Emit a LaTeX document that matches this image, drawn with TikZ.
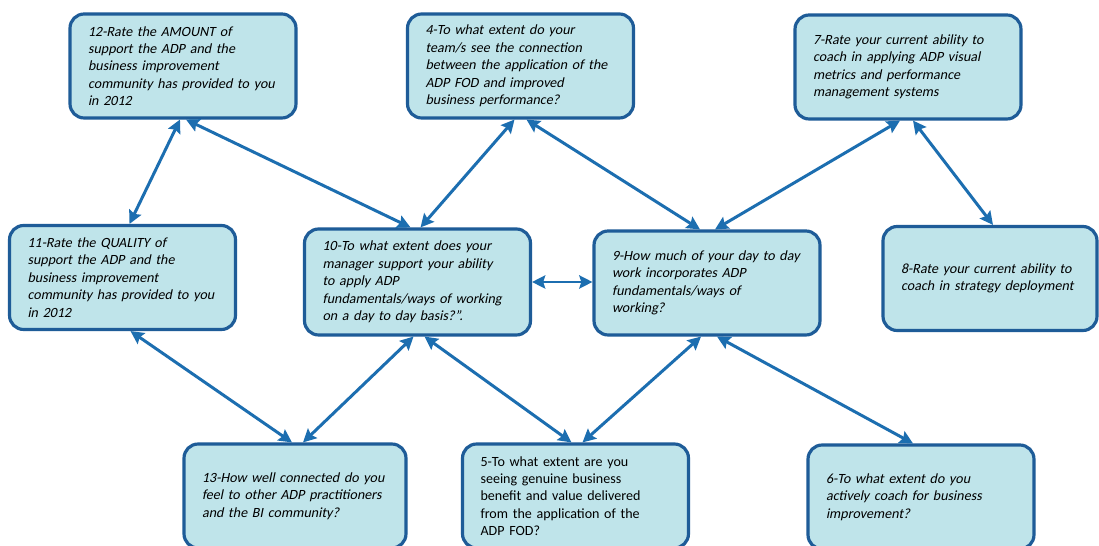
\documentclass[tikz,border=0pt]{standalone}
\usepackage{fontspec}
\setmainfont{Carlito}[AutoFakeSlant=0.2]
\usepackage{tikz}
\usetikzlibrary{arrows.meta, calc}
\definecolor{boxfill}{RGB}{191,228,234}
\definecolor{boxline}{RGB}{30,92,152}
\definecolor{linkblue}{RGB}{28,110,176}
\hyphenpenalty=10000
\exhyphenpenalty=10000
\begin{document}
\begin{tikzpicture}[
    x=0.02cm, y=-0.02cm,
    font=\fontsize{8}{9.9}\selectfont\itshape,
    qbox/.style={rectangle, rounded corners=8pt, draw=boxline, line width=1.8pt,
      fill=boxfill, text width=3.8cm, inner xsep=0.36cm, minimum height=2.08cm,
      align=left, text=black},
    qboxup/.style={qbox, font=\fontsize{8}{9.9}\selectfont\upshape},
    link/.style={{Stealth[length=7.5pt, width=7.5pt, inset=1.2pt]}-{Stealth[length=7.5pt, width=7.5pt, inset=1.2pt]},
      line width=1.7pt, draw=linkblue},
  ]
  \useasboundingbox[fill=white] (0,0) rectangle (1099,546);

  \node[qbox]   (q12) at (183,66)    {12-Rate the AMOUNT of\\support the ADP and the\\business improvement\\community has provided to you\\in 2012};
  \node[qbox]   (q4)  at (520.5,66)  {4-To what extent do your\\team/s see the connection\\between the application of the\\ADP FOD and improved\\business performance?};
  \node[qbox]   (q7)  at (908,67)    {7-Rate your current ability to\\coach in applying ADP visual\\metrics and performance\\management systems};

  \node[qbox]   (q11) at (122.5,277.5) {11-Rate the QUALITY of\\support the ADP and the\\business improvement\\community has provided to you\\in 2012};
  \node[qbox, minimum height=2.12cm] (q10) at (417.5,282) {10-To what extent does your\\manager support your ability\\to apply ADP\\fundamentals/ways of working\\on a day to day basis?”.};
  \node[qbox]   (q9)  at (707,283)   {9-How much of your day to day\\work incorporates ADP\\fundamentals/ways of\\working?};
  \node[qbox, text width=3.56cm] (q8) at (990,278.5) {8-Rate your current ability to\\coach in strategy deployment};

  \node[qbox, text width=3.72cm] (q13) at (295,496) {13-How well connected do you\\feel to other ADP practitioners\\and the BI community?};
  \node[qboxup] (q5)  at (575.5,496) {5-To what extent are you\\seeing genuine business\\benefit and value delivered\\from the application of the\\ADP FOD?};
  \node[qbox]   (q6)  at (921,497)   {6-To what extent do you\\actively coach for business\\improvement?};

  \draw[link] ($(q12.south)+(-3,0)$) -- ($(q11.north)+(7,0)$);
  \draw[link] ($(q12.south)+(3,0)$) -- ($(q10.north)+(-7,0)$);
  \draw[link] ($(q4.south)+(-6,0)$) -- ($(q10.north)+(3,0)$);
  \draw[link] ($(q4.south)+(6,0)$) -- ($(q9.north)+(-7,0)$);
  \draw[link] ($(q7.south)+(-8,0)$) -- ($(q9.north)+(8,0)$);
  \draw[link] ($(q7.south)+(5,0)$) -- ($(q8.north)+(3,0)$);
  \draw[link] (q10.east) -- (q10.east -| q9.west);
  \draw[link] ($(q11.south)+(8,0)$) -- ($(q13.north)+(-3,0)$);
  \draw[link] ($(q10.south)+(-4,0)$) -- ($(q13.north)+(8,0)$);
  \draw[link] ($(q10.south)+(7,0)$) -- ($(q5.north)+(-4,0)$);
  \draw[link] ($(q9.south)+(-6,0)$) -- ($(q5.north)+(7,0)$);
  \draw[link] ($(q9.south)+(10,0)$) -- ($(q6.north)+(-8,0)$);
\end{tikzpicture}
\end{document}
